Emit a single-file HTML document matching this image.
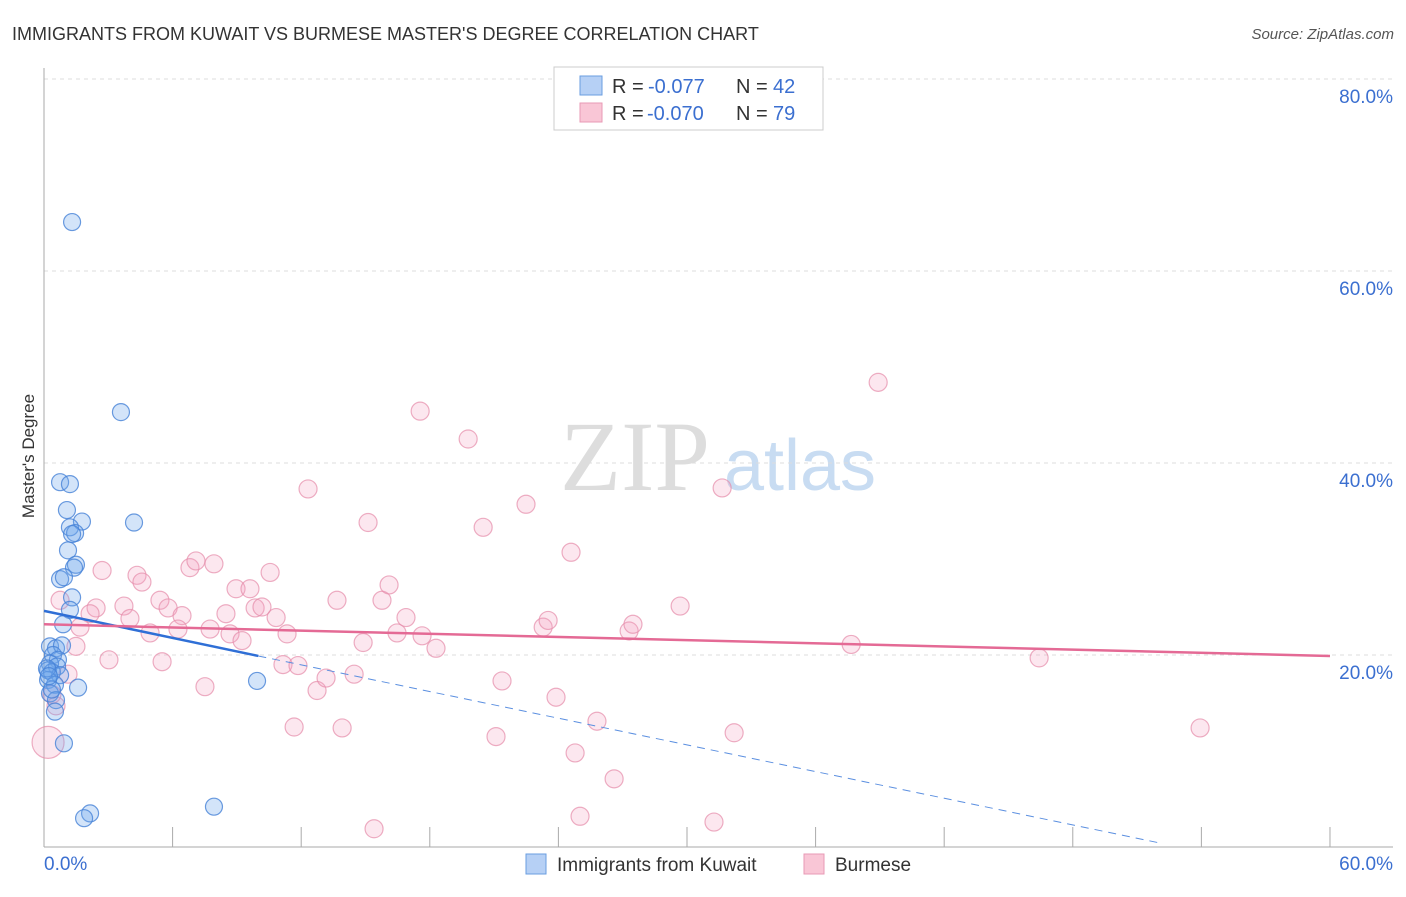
<!DOCTYPE html>
<html><head><meta charset="utf-8"><style>
body{margin:0;background:#fff;font-family:"Liberation Sans",sans-serif;}
svg text{font-family:"Liberation Sans",sans-serif;}
</style></head><body>
<svg id="chart" width="1406" height="892" xmlns="http://www.w3.org/2000/svg">
<text x="12" y="40" font-size="18" fill="#333">IMMIGRANTS FROM KUWAIT VS BURMESE MASTER'S DEGREE CORRELATION CHART</text>
<text x="1394" y="39" font-size="15" fill="#555" font-style="italic" text-anchor="end">Source: ZipAtlas.com</text>
<text x="34" y="456" font-size="17" fill="#333" text-anchor="middle" transform="rotate(-90 34 456)">Master's Degree</text>
<g>
<text x="635" y="490" font-size="100" fill="#ddd" style="font-family:'Liberation Serif',serif" text-anchor="middle">ZIP</text>
<text x="800" y="490" font-size="72" fill="#c8dcf2" text-anchor="middle">atlas</text>
</g>
<g id="grid"></g><g id="axes"></g><g id="pts"></g><g id="lines"></g>
<g>
<rect x="554" y="67" width="269" height="63" fill="#fff" stroke="#ccc"/>
<rect x="580" y="76" width="22" height="19" fill="#b6d0f5" stroke="#6a9ee0"/>
<text x="612" y="93" font-size="20" fill="#333">R = </text>
<text x="648" y="93" font-size="20" fill="#3b6fd0">-0.077</text>
<text x="736" y="93" font-size="20" fill="#333">N = </text>
<text x="773" y="93" font-size="20" fill="#3b6fd0">42</text>
<rect x="580" y="103" width="22" height="19" fill="#f9c6d6" stroke="#e89ab5"/>
<text x="612" y="120" font-size="20" fill="#333">R = </text>
<text x="647" y="120" font-size="20" fill="#3b6fd0">-0.070</text>
<text x="736" y="120" font-size="20" fill="#333">N = </text>
<text x="773" y="120" font-size="20" fill="#3b6fd0">79</text>
</g>
<g>
<rect x="526" y="854" width="20" height="20" fill="#b6d0f5" stroke="#6a9ee0"/>
<text x="557" y="871" font-size="19" fill="#333">Immigrants from Kuwait</text>
<rect x="804" y="854" width="20" height="20" fill="#f9c6d6" stroke="#e89ab5"/>
<text x="835" y="871" font-size="19" fill="#333">Burmese</text>
</g>
</svg>
<script>
const xTicks=[0,6,12,18,24,30,36,42,48,54,60];
const yTicks=[20,40,60,80];
const yTickLabels=["20.0%","40.0%","60.0%","80.0%"];
const xEndLabels=["0.0%","60.0%"];
const kuwaitX=[1.31,3.59,0.75,1.21,1.07,1.77,4.20,1.21,1.45,1.31,1.12,1.49,1.40,0.75,0.93,1.31,1.21,0.89,0.28,0.56,0.84,0.42,0.65,0.28,0.61,0.19,0.37,0.75,0.19,0.51,1.59,0.28,0.56,0.51,9.94,0.93,2.15,1.87,7.93,0.14,0.37,0.23];
const kuwaitY=[65.1,45.3,38.0,37.8,35.1,33.9,33.8,33.3,32.7,32.6,30.9,29.4,29.1,27.9,28.1,26.0,24.7,23.2,20.9,20.7,21.0,20.0,19.5,19.1,18.8,18.4,18.2,17.9,17.4,16.9,16.6,16.0,15.3,14.1,17.3,10.8,3.5,3.0,4.2,18.6,16.4,17.8];
const burmeseX=[2.71,2.43,3.73,2.15,4.01,4.34,4.57,3.03,5.41,4.95,5.79,6.44,6.81,7.09,7.93,6.25,7.75,8.49,8.68,8.96,9.24,9.61,9.85,10.17,10.55,10.83,11.34,11.15,11.85,7.51,5.51,11.67,12.32,12.74,13.16,13.67,13.91,14.47,14.89,15.12,15.77,16.10,16.47,16.89,17.55,17.64,18.29,19.79,20.49,21.09,21.37,22.49,23.29,23.52,23.89,24.59,24.78,25.01,25.80,26.60,27.30,27.48,29.68,31.26,31.64,32.20,37.66,38.92,46.43,53.94,15.40,1.49,1.68,1.12,0.56,0.19,0.37,0.75];
const burmeseY=[28.8,24.9,25.1,24.3,23.8,28.3,27.6,19.5,25.7,22.3,24.9,24.1,29.1,29.8,29.5,22.7,22.7,24.3,22.2,26.9,21.5,26.9,24.9,25.0,28.6,23.9,22.2,19.0,18.9,16.7,19.3,12.5,37.3,16.3,17.6,25.7,12.4,18.0,21.3,33.8,25.7,27.3,22.3,23.9,45.4,22.0,20.7,42.5,33.3,11.5,17.3,35.7,22.9,23.6,15.6,30.7,9.8,3.2,13.1,7.1,22.5,23.2,25.1,2.6,37.4,11.9,21.1,48.4,19.7,12.4,1.9,20.9,22.9,18.0,14.7,10.9,15.9,25.7];
const burmeseR=burmeseX.map((v,i)=>i===75?16:9);
const kuwaitTrend=[[0,24.6],[10,19.9],[52.1,0.4]];
const burmeseTrend=[[0,23.2],[60,19.9]];
const X=v=>44+v*21.433, Y=v=>847-v*9.6;
const NS="http://www.w3.org/2000/svg";
function mk(p,t,a){const e=document.createElementNS(NS,t);for(const k in a)e.setAttribute(k,a[k]);document.getElementById(p).appendChild(e);return e;}
yTicks.forEach((v,i)=>{
 const l=mk('grid','line',{x1:44,x2:1393,y1:Y(v),y2:Y(v),stroke:'#ddd','stroke-dasharray':'4 4'});
 
 
 const t=mk('grid','text',{x:1393,y:Y(v)+24,'font-size':19,fill:'#3b6fd0','text-anchor':'end'});t.textContent=yTickLabels[i];
 
 
});
const ya=mk('axes','line',{x1:44,x2:44,y1:68,y2:847,stroke:'#aaa'});


const xa=mk('axes','line',{x1:44,x2:1393,y1:847,y2:847,stroke:'#aaa'});


xTicks.forEach(v=>{const t=mk('axes','line',{x1:X(v),x2:X(v),y1:827,y2:847,stroke:'#aaa'});
 
 });
[[0,'start'],[60,'end']].forEach((d,i)=>{const t=mk('axes','text',{x:i?1393:44,y:870,'font-size':19,fill:'#3b6fd0','text-anchor':d[1]});t.textContent=xEndLabels[i];
 
 });
burmeseX.forEach((v,i)=>{const c=mk('pts','circle',{cx:X(v),cy:Y(burmeseY[i]),r:burmeseR[i],fill:'rgba(244,160,190,0.25)',stroke:'rgba(230,140,170,0.7)','stroke-width':1.2});
 
 });
kuwaitX.forEach((v,i)=>{const c=mk('pts','circle',{cx:X(v),cy:Y(kuwaitY[i]),r:8.5,fill:'rgba(110,165,235,0.3)',stroke:'rgba(70,130,215,0.8)','stroke-width':1.2});
 
 });
const b1=mk('lines','line',{x1:X(kuwaitTrend[0][0]),y1:Y(kuwaitTrend[0][1]),x2:X(kuwaitTrend[1][0]),y2:Y(kuwaitTrend[1][1]),stroke:'#2f6fd6','stroke-width':2.5});


const b2=mk('lines','line',{x1:X(kuwaitTrend[1][0]),y1:Y(kuwaitTrend[1][1]),x2:X(kuwaitTrend[2][0]),y2:Y(kuwaitTrend[2][1]),stroke:'#5b8fe0','stroke-width':1,'stroke-dasharray':'8 6'});


const p1=mk('lines','line',{x1:X(burmeseTrend[0][0]),y1:Y(burmeseTrend[0][1]),x2:X(burmeseTrend[1][0]),y2:Y(burmeseTrend[1][1]),stroke:'#e46a95','stroke-width':2.5});


</script>
</body></html>
